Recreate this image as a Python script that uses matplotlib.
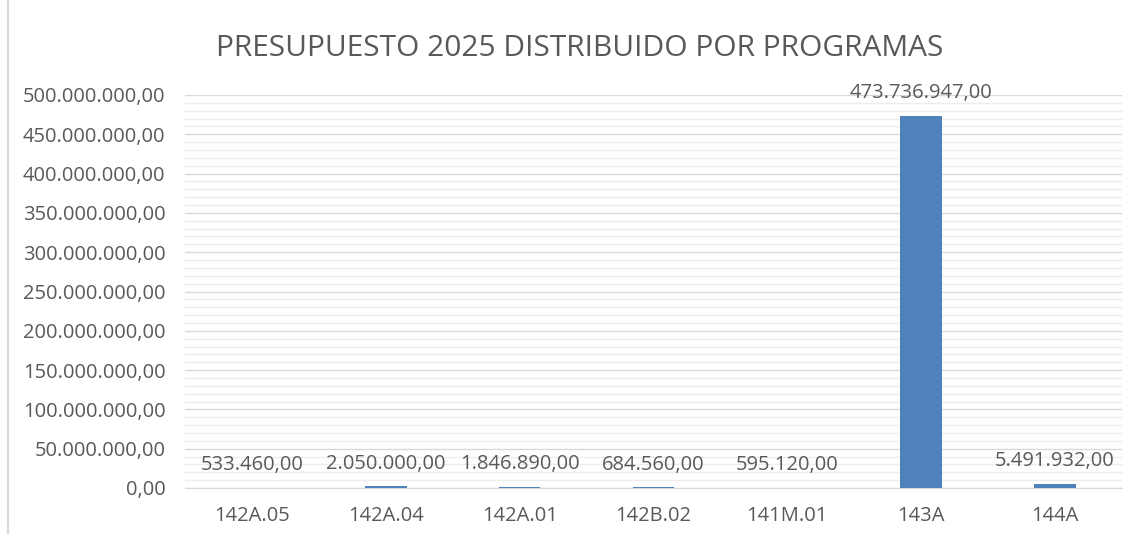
import matplotlib.pyplot as plt
from matplotlib.ticker import MultipleLocator, FuncFormatter

programas = ["142A.05", "142A.04", "142A.01", "142B.02", "141M.01", "143A", "144A"]
importes = [533460.00, 2050000.00, 1846890.00, 684560.00, 595120.00, 473736947.00, 5491932.00]


def fmt_es(v, pos=None):
    s = f"{v:,.2f}"
    return s.replace(",", "X").replace(".", ",").replace("X", ".")


plt.rcParams['font.family'] = ['Open Sans', 'DejaVu Sans']
gris = '#595959'

fig = plt.figure(figsize=(11.45, 5.34), dpi=100)
ax = fig.add_axes([185 / 1145, 1 - 488 / 534, (1122 - 185) / 1145, (488 - 95) / 534])

x = range(len(programas))
ax.bar(x, importes, width=0.31, color='#4F81BD', zorder=3)

for xi, v in zip(x, importes):
    ax.annotate(fmt_es(v), (xi, v), xytext=(0, 16), textcoords='offset points',
                ha='center', va='center', fontsize=14.5, color=gris, zorder=4)

ax.set_xlim(-0.5, len(programas) - 0.5)
ax.set_ylim(0, 500000000)
ax.yaxis.set_major_locator(MultipleLocator(50000000))
ax.yaxis.set_minor_locator(MultipleLocator(10000000))
ax.yaxis.set_major_formatter(FuncFormatter(fmt_es))
ax.grid(axis='y', which='major', color='#D9D9D9', linewidth=1.0, zorder=0)
ax.grid(axis='y', which='minor', color='#EDEDED', linewidth=1.0, zorder=0)

ax.set_xticks(list(x))
ax.set_xticklabels(programas)
ax.tick_params(axis='both', which='both', length=0, labelsize=14.5, colors=gris)
ax.tick_params(axis='y', pad=14)
ax.tick_params(axis='x', pad=13)

for s in ['top', 'right', 'left']:
    ax.spines[s].set_visible(False)
ax.spines['bottom'].set_color('#D9D9D9')

fig.text(580 / 1145, 1 - 48 / 534, "PRESUPUESTO 2025 DISTRIBUIDO POR PROGRAMAS",
         ha='center', va='center', fontsize=21.5, color=gris)

# marco del gráfico
fig.add_artist(plt.Line2D([8 / 1145, 8 / 1145], [0, 1], color='#D9D9D9', linewidth=1.5,
                          transform=fig.transFigure))

fig.savefig("out.png", dpi=100)
